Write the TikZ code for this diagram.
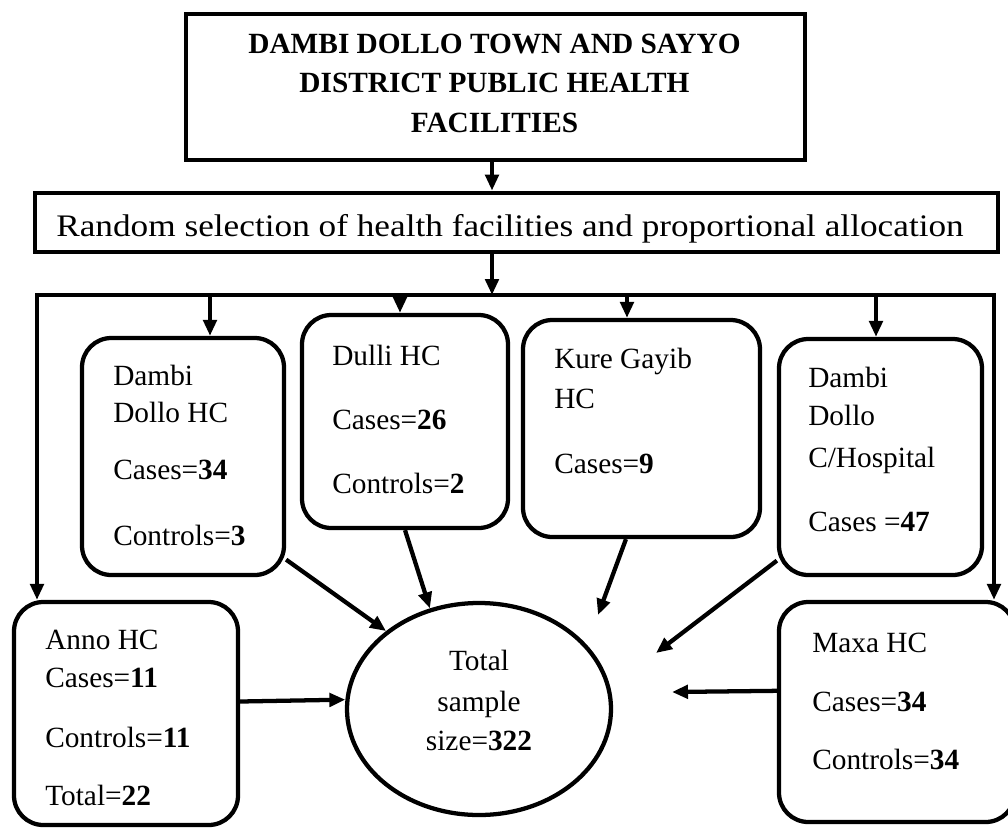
\documentclass[tikz,border=0pt]{standalone}
\usepackage{fontspec}
\setmainfont{Liberation Serif}
\usetikzlibrary{arrows.meta,shapes.geometric}
\begin{document}
\begin{tikzpicture}[x=0.75pt,y=-0.75pt,
  wh/.style 2 args={minimum width=#1*0.75pt, minimum height=#2*0.75pt},
  sqbox/.style={draw, line width=3.6pt, inner sep=0pt},
  hcbox/.style={draw, line width=3.2pt, rounded corners=22pt, inner sep=0pt},
  txt/.style={inner sep=0pt, align=left, font=\fontsize{22}{28}\selectfont, anchor=base west},
  conn/.style={line width=3.2pt},
  arr/.style={conn, -{Triangle[length=12pt,width=10pt]}}]
\path[use as bounding box, fill=white] (0,0) rectangle (1008,829);

% top boxes
\node[sqbox, wh={619}{146}] (top) at (495.5,87) {};
\node[txt, align=center, anchor=base, font=\bfseries\fontsize{22}{29.5}\selectfont] (toptxt) at (494.5,132)
  {DAMBI DOLLO TOWN AND SAYYO\\DISTRICT PUBLIC HEALTH\\FACILITIES};
\node[sqbox, wh={963}{59}] (sel) at (516.5,222.5) {};
\node[txt, anchor=base, font=\fontsize{23.5}{28}\selectfont] (seltxt) at (510,236)
  {\scalebox{1.125}[1]{Random selection of health facilities and proportional allocation}};

% facility boxes
\node[hcbox, wh={202}{237}] (d1) at (183,456.5) {};
\node[txt] (d1txt) at (113,545)
  {Dambi\\[0pt]Dollo HC\\[15pt]Cases=\textbf{34}\\[21pt]Controls=\textbf{3}};
\node[hcbox, wh={206}{213}] (dulli) at (405,421.5) {};
\node[txt] (dullitxt) at (332,493)
  {Dulli HC\\[20pt]Cases=\textbf{26}\\[19.5pt]Controls=\textbf{2}};
\node[hcbox, wh={237}{217}] (kure) at (641.5,428.5) {};
\node[txt] (kuretxt) at (554,473)
  {Kure Gayib\\[2pt]HC\\[20.5pt]Cases=\textbf{9}};
\node[hcbox, wh={203}{236}] (hosp) at (880.5,457) {};
\node[txt] (hosptxt) at (808,531)
  {Dambi\\[1pt]Dollo\\[3pt]C/Hospital\\[20pt]Cases =\textbf{47}};
\node[hcbox, wh={224}{223}] (anno) at (126,713.5) {};
\node[txt] (annotxt) at (45,805)
  {Anno HC\\[0pt]Cases=\textbf{11}\\[17pt]Controls=\textbf{11}\\[15.5pt]Total=\textbf{22}};
\node[hcbox, wh={236}{220}] (maxa) at (897,712) {};
\node[txt] (maxatxt) at (812,769)
  {Maxa HC\\[16pt]Cases=\textbf{34}\\[15.5pt]Controls=\textbf{34}};

% total ellipse
\node[draw, ellipse, line width=3.2pt, inner sep=0pt, wh={264}{212}] (tot) at (479,709) {};
\node[txt, align=center, anchor=base] (tottxt) at (479,750)
  {Total\\[3pt]sample\\[1pt]size=\textbf{322}};

% main flow
\coordinate (m) at (492,0);
\coordinate (BL) at (37,295);
\coordinate (BR) at (994,295);
\draw[arr] (m |- top.south) -- (m |- sel.north);
\draw[arr] (m |- sel.south) -- (m |- BL);
\draw[conn, {Triangle[length=12pt,width=10pt]}-{Triangle[length=12pt,width=10pt]}]
  (BL |- anno.north) -- (BL) -- (BR) -- (BR |- maxa.north);

% drops
\coordinate (b1) at (210,295);
\coordinate (b2) at (400,295);
\coordinate (b3) at (627,295);
\coordinate (b4) at (876,295);
\draw[arr] (b1) -- (b1 |- d1.north);
\draw[arr] (b2) -- (b2 |- dulli.north);
\draw[arr] (b3) -- (b3 |- kure.north);
\draw[arr] (b4) -- (b4 |- hosp.north);

% to total
\coordinate (kureend) at (598,615);
\coordinate (hospend) at (656,653);
\coordinate (maxaend) at (672,692);
\draw[arr] (d1.-45) -- (tot.140);
\draw[arr] (dulli.south) -- (tot.116);
\draw[arr] (kure.-98) -- (kureend);
\draw[arr] (hosp.-135) -- (hospend);
\draw[arr] (anno.6) -- (tot.176);
\draw[arr] (maxa.170) -- (maxaend);
\end{tikzpicture}
\end{document}
